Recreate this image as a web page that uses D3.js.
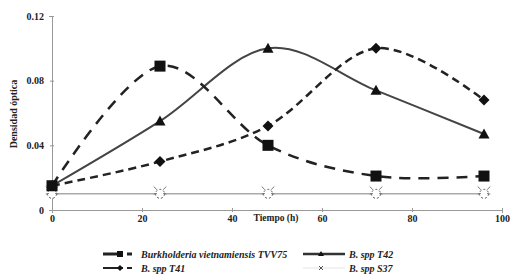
<!DOCTYPE html>
<html><head><meta charset="utf-8">
<script src="https://cdn.jsdelivr.net/npm/d3@7"></script>
<style>body{margin:0;background:#fff}svg{display:block}text{font-family:"Liberation Serif","Times New Roman",serif;font-weight:bold}</style>
</head><body><svg id="c" width="511" height="276"></svg>
<script>
const hours = [0, 24, 48, 72, 96];
const tvv75 = [0.015, 0.089, 0.040, 0.021, 0.021];
const t41 = [0.015, 0.030, 0.052, 0.100, 0.068];
const t42 = [0.015, 0.055, 0.100, 0.074, 0.047];
const s37 = [0.010, 0.010, 0.010, 0.010, 0.010];
const xTicks = [0, 20, 40, 60, 80, 100];
const yTicks = [0, 0.04, 0.08, 0.12];
const yTickLabels = ["0", "0.04", "0.08", "0.12"];
const seriesNames = ["Burkholderia vietnamiensis TVV75", "B. spp T41", "B. spp T42", "B. spp S37"];

const svg = d3.select("#c");
const x = d3.scaleLinear().domain([0, 100]).range([52, 502]);
const y = d3.scaleLinear().domain([0, 0.12]).range([210, 16]);

// axes
const xa = svg.append("g").attr("transform", "translate(0,210)")
  .call(d3.axisBottom(x).tickValues(xTicks).tickSize(3).tickFormat(d3.format("d")));
xa.select(".domain").attr("stroke", "#999").attr("stroke-width", 1);
xa.selectAll(".tick line").attr("stroke", "#999").attr("y1", -2).attr("y2", 2);
xa.selectAll(".tick text").attr("font-size", 10).attr("fill", "#222").attr("dy", "0.9em").attr("y", 3);
const ya = svg.append("g").attr("transform", "translate(52,0)")
  .call(d3.axisLeft(y).tickValues(yTicks).tickSize(3).tickFormat((d, i) => yTickLabels[i]));
ya.select(".domain").attr("stroke", "#999").attr("stroke-width", 1);
ya.selectAll(".tick line").attr("stroke", "#999").attr("x1", -2).attr("x2", 2);
ya.selectAll(".tick text").attr("font-size", 10).attr("fill", "#222").attr("x", -8);

svg.append("text").attr("x", 276).attr("y", 221).attr("text-anchor", "middle")
  .attr("font-size", 9.5).attr("fill", "#222").text("Tiempo (h)");
svg.append("text").attr("transform", "translate(17,114) rotate(-90)").attr("text-anchor", "middle")
  .attr("font-size", 10).attr("fill", "#222").text("Densidad óptica");

const line = d3.line().x((d, i) => x(hours[i])).y(d => y(d)).curve(d3.curveCatmullRom.alpha(0));

function sunMarker(g, cx, cy, r) {
  const m = g.append("g").attr("transform", `translate(${cx},${cy})`);
  m.append("circle").attr("r", r).attr("fill", "#fff").attr("stroke", "#555").attr("stroke-width", 1).attr("stroke-dasharray", "2,2");
  [[-1,-1],[1,-1],[-1,0.2],[1,0.2]].forEach(([a,b]) => {
    m.append("line").attr("x1", a*r*0.7).attr("y1", b*r*0.7 - 1).attr("x2", a*r*1.4).attr("y2", b*r*1.4 - 1)
      .attr("stroke", "#666").attr("stroke-width", 0.9);
  });
}
function drawMarker(g, type, cx, cy, s) {
  if (type === "square") g.append("rect").attr("x", cx - s/2).attr("y", cy - s/2).attr("width", s).attr("height", s).attr("fill", "#111");
  else if (type === "diamond") g.append("path").attr("d", `M${cx},${cy-s/2}L${cx+s/2},${cy}L${cx},${cy+s/2}L${cx-s/2},${cy}Z`).attr("fill", "#111");
  else if (type === "triangle") g.append("path").attr("d", `M${cx},${cy-s/2}L${cx+s/2},${cy+s/2-1}L${cx-s/2},${cy+s/2-1}Z`).attr("fill", "#111");
  else if (type === "sun") sunMarker(g, cx, cy, s/2);
  else if (type === "x") {
    g.append("path").attr("d", `M${cx-2},${cy-2}L${cx+2},${cy+2}M${cx+2},${cy-2}L${cx-2},${cy+2}`).attr("stroke", "#555").attr("stroke-width", 1);
  }
}

const series = [
  {vals: s37, stroke: "#aaa", w: 1.5, dash: null, marker: "sun", size: 9},
  {vals: t42, stroke: "#444", w: 2, dash: null, marker: "triangle", size: 11},
  {vals: t41, stroke: "#222", w: 2.5, dash: "8,5", marker: "diamond", size: 11},
  {vals: tvv75, stroke: "#222", w: 2.5, dash: "11,8", marker: "square", size: 11}
];
series.forEach(s => {
  svg.append("path").attr("d", line(s.vals)).attr("fill", "none").attr("stroke", s.stroke)
    .attr("stroke-width", s.w).attr("stroke-dasharray", s.dash);
});
series.forEach(s => {
  const g = svg.append("g");
  s.vals.forEach((v, i) => drawMarker(g, s.marker, x(hours[i]), y(v), s.size));
});

// legend
const leg = [
  {name: seriesNames[0], lx: 103, len: 33, tx: 141, ly: 254, stroke: "#222", w: 3, marker: "square", dash: "20,4,5,20"},
  {name: seriesNames[2], lx: 303, len: 42, tx: 349, ly: 254, stroke: "#333", w: 2.5, marker: "triangle", dash: null},
  {name: seriesNames[1], lx: 103, len: 33, tx: 141, ly: 268, stroke: "#222", w: 2.2, marker: "diamond", dash: "20,4,5,20"},
  {name: seriesNames[3], lx: 303, len: 42, tx: 349, ly: 268, stroke: "#e4e4e4", w: 1, marker: "x", dash: null}
];
leg.forEach(l => {
  const g = svg.append("g");
  g.append("line").attr("x1", l.lx).attr("x2", l.lx + l.len).attr("y1", l.ly).attr("y2", l.ly)
    .attr("stroke", l.stroke).attr("stroke-width", l.w).attr("stroke-dasharray", l.dash);
  drawMarker(g, l.marker, l.lx + (l.len > 40 ? 18 : 17), l.ly, 6);
  g.append("text").attr("x", l.tx).attr("y", l.ly + 3.5).attr("font-size", 10).attr("font-style", "italic")
    .attr("fill", "#222").text(l.name);
});
</script></body></html>
